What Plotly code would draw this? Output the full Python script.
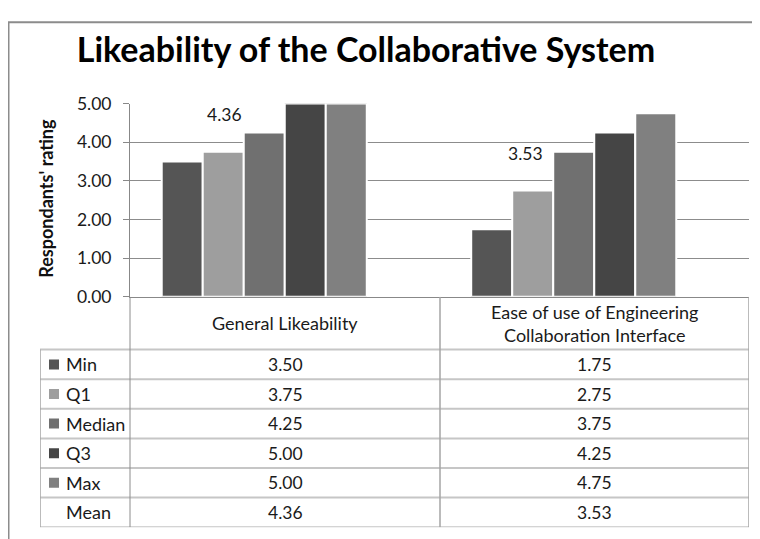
import plotly.graph_objects as go

# ---------------- data ----------------
categories = ["General Likeability", "Ease of use of Engineering Collaboration Interface"]
category_labels = ["General Likeability", "Ease of use of Engineering<br>Collaboration Interface"]
series_names = ["Min", "Q1", "Median", "Q3", "Max", "Mean"]
min_vals = [3.50, 1.75]
q1_vals = [3.75, 2.75]
median_vals = [4.25, 3.75]
q3_vals = [5.00, 4.25]
max_vals = [5.00, 4.75]
mean_vals = [4.36, 3.53]
y_tick_vals = [0, 1, 2, 3, 4, 5]
y_tick_text = ["0.00", "1.00", "2.00", "3.00", "4.00", "5.00"]

# ---------------- style / layout constants ----------------
W, H = 760, 539
OFF = 8  # default page body margin
FONT = "Lato"
TXT = "#1a1a1a"
series_colors = ["#555555", "#9e9e9e", "#707070", "#454545", "#808080", "rgba(0,0,0,0)"]
mean_label_shift = [(-60, 14), (-69, 7)]   # offsets (px) of the manually moved mean labels


def px(x):
    return (x - OFF) / W


def py(y):
    return 1 - (y - OFF) / H


series_values = [min_vals, q1_vals, median_vals, q3_vals, max_vals, mean_vals]

fig = go.Figure()

# ---------------- bars ----------------
for name, vals, col in zip(series_names, series_values, series_colors):
    is_mean = name == "Mean"
    fig.add_trace(go.Bar(
        x=categories, y=vals, name=name,
        marker=dict(color=col, line=dict(color="rgba(0,0,0,0)" if is_mean else "white", width=2)),
        showlegend=False, hoverinfo="skip" if is_mean else None,
    ))

for cat, m, (dx, dy) in zip(categories, mean_vals, mean_label_shift):
    fig.add_annotation(x=cat, y=m, xref="x", yref="y", text=f"{m:.2f}",
                       showarrow=False, xshift=dx, yshift=dy, xanchor="center",
                       font=dict(family=FONT, size=17.5, color=TXT))

# ---------------- data table (own hidden axes x2/y2, pixel-like units) ----------------
TBL_LEFT, TBL_TOP = 40, 297
col_edges = [0, 90, 400, 709]
HEADER_H, ROW_H = 55, 30.8
n_rows = len(series_names)
tbl_h = HEADER_H + n_rows * ROW_H
row_centers = [HEADER_H + (i + 0.5) * ROW_H for i in range(n_rows)]
col_centers = [(col_edges[1] + col_edges[2]) / 2, (col_edges[2] + col_edges[3]) / 2]

# legend keys in the table
key_names = [n for n in series_names if n != "Mean"]
fig.add_trace(go.Scatter(
    x=[14] * len(key_names), y=row_centers[:len(key_names)],
    mode="markers", xaxis="x2", yaxis="y2", showlegend=False, hoverinfo="skip",
    marker=dict(symbol="square", size=10, color=series_colors[:len(key_names)], line=dict(width=0)),
))

HLINE = dict(color="#c6c6c6", width=2)
VLINE = dict(color="#a4a4a4", width=1.5)
for i in range(n_rows + 1):
    yy = HEADER_H + i * ROW_H
    fig.add_shape(type="line", xref="x2", yref="y2", x0=col_edges[0], x1=col_edges[-1], y0=yy, y1=yy, line=HLINE)
fig.add_shape(type="line", xref="x2", yref="y2", x0=col_edges[0], x1=col_edges[0], y0=HEADER_H, y1=tbl_h, line=VLINE)
fig.add_shape(type="line", xref="x2", yref="y2", x0=col_edges[1], x1=col_edges[1], y0=0, y1=tbl_h,
              line=dict(color="#8c8c8c", width=1))
for xe in col_edges[2:]:
    fig.add_shape(type="line", xref="x2", yref="y2", x0=xe, x1=xe, y0=0, y1=tbl_h, line=VLINE)

# header (category labels)
for cx, lab in zip(col_centers, category_labels):
    fig.add_annotation(x=cx, y=HEADER_H / 2, xref="x2", yref="y2", text=lab, showarrow=False,
                       xanchor="center", font=dict(family=FONT, size=18, color=TXT))
# row names and values
for i, (name, vals) in enumerate(zip(series_names, series_values)):
    fig.add_annotation(x=24, y=row_centers[i], xref="x2", yref="y2", text=name, showarrow=False,
                       xanchor="left", font=dict(family=FONT, size=18, color=TXT))
    for cx, v in zip(col_centers, vals):
        fig.add_annotation(x=cx, y=row_centers[i], xref="x2", yref="y2", text=f"{v:.2f}",
                           showarrow=False, xanchor="center",
                           font=dict(family=FONT, size=17.5, color=TXT))

# outer chart frame
fig.add_shape(type="rect", xref="paper", yref="paper",
              x0=px(8.5), x1=px(790), y0=py(580), y1=py(11.5),
              line=dict(color="#8c8c8c", width=2), fillcolor="rgba(0,0,0,0)", layer="below")

# y-axis title
fig.add_annotation(x=px(46), y=py(195), xref="paper", yref="paper",
                   xanchor="center", yanchor="middle",
                   text="<b>Respondants' rating</b>", textangle=-90, showarrow=False,
                   font=dict(family=FONT, size=18, color="#111111"))

fig.update_layout(
    width=W, height=H,
    margin=dict(l=0, r=0, t=0, b=0),
    paper_bgcolor="white", plot_bgcolor="white",
    barmode="group", bargap=0.205, bargroupgap=0,
    title=dict(text="<b>Likeability of the Collaborative System</b>",
               x=px(366), xanchor="center", y=py(50), yanchor="middle",
               font=dict(family=FONT, size=34, color="#000000")),
    xaxis=dict(domain=[px(130), px(749)], showticklabels=False, showgrid=False,
               showline=True, linecolor="#888888", linewidth=1, ticks="", zeroline=False),
    yaxis=dict(domain=[py(297), py(96)], range=[0, 5], tickvals=y_tick_vals, ticktext=y_tick_text,
               showgrid=True, gridcolor="#8c8c8c", gridwidth=1,
               showline=True, linecolor="#888888", linewidth=1,
               ticks="outside", ticklen=6, tickcolor="#888888",
               ticklabelstandoff=8,
               tickfont=dict(family=FONT, size=17.5, color=TXT), zeroline=False),
    xaxis2=dict(domain=[px(TBL_LEFT), px(TBL_LEFT + col_edges[-1])], range=[0, col_edges[-1]],
                anchor="y2", visible=False, fixedrange=True),
    yaxis2=dict(domain=[py(TBL_TOP + tbl_h), py(TBL_TOP)], range=[tbl_h, 0],
                anchor="x2", visible=False, fixedrange=True),
)

fig.write_html("out.html")
